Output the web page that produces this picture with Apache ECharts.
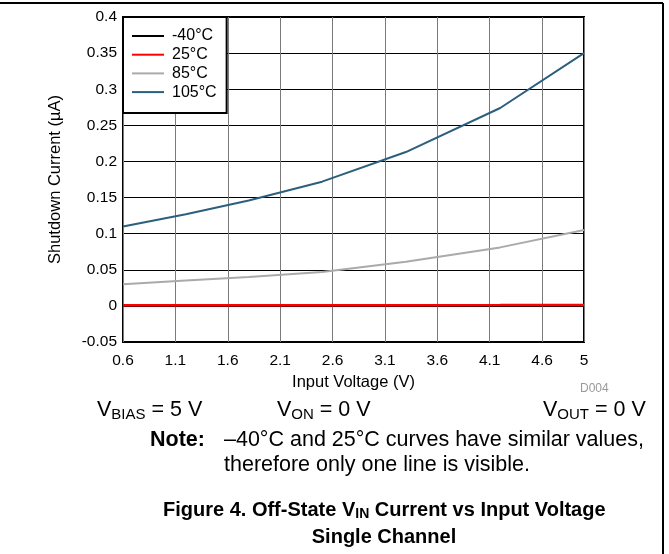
<!DOCTYPE html>
<html>
<head>
<meta charset="utf-8">
<script src="https://cdn.jsdelivr.net/npm/echarts@6/dist/echarts.min.js"></script>
<style>
  html, body { margin: 0; padding: 0; background: #fff; }
  #chart { width: 669px; height: 554px; }
</style>
</head>
<body>
<div id="chart"></div>
<script>
// input voltage (V) where the curves were sampled
var voltages = [0.6, 1.2, 1.8, 2.5, 3.3, 4.2, 5.0];
var names = ['-40°C', '25°C', '85°C', '105°C'];
var colors = ['#000000', '#ff0000', '#aaaaaa', '#2b5f7e'];
// shutdown current (uA)
var iM40 = [0.0005, 0.0005, 0.0005, 0.0005, 0.0005, 0.0005, 0.0006];
var i25 = [0.001, 0.001, 0.001, 0.001, 0.001, 0.0012, 0.0014];
var i85 = [0.030, 0.035, 0.040, 0.047, 0.061, 0.081, 0.105];
var i105 = [0.110, 0.127, 0.146, 0.172, 0.213, 0.274, 0.350];
var yTicks = { min: -0.05, max: 0.4, step: 0.05 };
var xStart = 0.6, xEnd = 5, xStep = 0.5;

var FONT = 'Liberation Sans, Arial, sans-serif';
var chart = echarts.init(document.getElementById('chart'));

function pts(vals) {
    // x is shifted so ticks can start at 0.6 with a 0.5 step
    return voltages.map(function (v, i) { return [v - xStart, vals[i]]; });
}

var allData = [iM40, i25, i85, i105];
var series = [];
for (var k = 0; k < names.length; k++) {
    series.push({
        name: names[k],
        type: 'line',
        data: pts(allData[k]),
        showSymbol: false,
        lineStyle: { color: colors[k], width: k == 1 ? 2.5 : 2 },
        itemStyle: { color: colors[k] },
        z: 2 + k
    });
}

var subRich = function (size, pad, bold) {
    return { s: { fontSize: size, padding: [pad, 0, 0, 0], fontFamily: FONT, fontWeight: bold ? 'bold' : 'normal' } };
};

var option = {
    animation: false,
    textStyle: { fontFamily: FONT },
    grid: {
        left: 123, top: 17, right: 85, bottom: 212,
        show: true, borderColor: '#000', borderWidth: 2, backgroundColor: 'transparent'
    },
    legend: {
        data: names,
        orient: 'vertical',
        left: 123, top: 17,
        padding: [11, 10, 13, 9],
        itemGap: 2.7,
        itemWidth: 32, itemHeight: 2,
        icon: 'rect',
        backgroundColor: '#fff',
        borderColor: '#000', borderWidth: 2,
        textStyle: { fontSize: 16, color: '#000', fontFamily: FONT, lineHeight: 16, padding: [0, 0, 0, 3] },
        z: 10
    },
    xAxis: {
        type: 'value',
        min: 0, max: xEnd - xStart, interval: xStep,
        name: 'Input Voltage (V)',
        nameLocation: 'middle', nameGap: 31,
        nameTextStyle: { fontSize: 16.5, color: '#000', fontFamily: FONT },
        axisLine: { show: false },
        axisTick: { show: false },
        axisLabel: {
            fontSize: 15.5, color: '#000', margin: 11, fontFamily: FONT,
            formatter: function (v) { return String(Math.round((v + xStart) * 10) / 10); }
        },
        splitLine: { show: true, lineStyle: { color: '#7a7a7a', width: 1 } }
    },
    yAxis: {
        type: 'value',
        min: yTicks.min, max: yTicks.max, interval: yTicks.step,
        name: 'Shutdown Current (µA)',
        nameLocation: 'middle', nameGap: 59,
        nameTextStyle: { fontSize: 16.5, color: '#000', fontFamily: FONT },
        axisLine: { show: false },
        axisTick: { show: false },
        axisLabel: {
            fontSize: 15.5, color: '#000', margin: 6, fontFamily: FONT,
            formatter: function (v) { return String(Math.round(v * 100) / 100); }
        },
        splitLine: { show: true, lineStyle: { color: '#000', width: 1 } }
    },
    series: series,
    graphic: [
        // figure frame: top and right edges
        { type: 'line', shape: { x1: 0, y1: 3, x2: 663, y2: 3 }, style: { stroke: '#000', lineWidth: 2 } },
        { type: 'line', shape: { x1: 663, y1: 3, x2: 663, y2: 554 }, style: { stroke: '#000', lineWidth: 2 } },
        { type: 'text', left: 580, top: 383, style: { text: 'D004', fontSize: 12, fill: '#999', fontFamily: FONT } },
        { type: 'text', left: 97, top: 399, style: { text: 'V{s|BIAS} = 5 V', fontSize: 21.5, fill: '#000', fontFamily: FONT, rich: subRich(15, 10) } },
        { type: 'text', left: 277, top: 399, style: { text: 'V{s|ON} = 0 V', fontSize: 21.5, fill: '#000', fontFamily: FONT, rich: subRich(15, 10) } },
        { type: 'text', left: 543, top: 399, style: { text: 'V{s|OUT} = 0 V', fontSize: 21.5, fill: '#000', fontFamily: FONT, rich: subRich(15, 10) } },
        { type: 'text', left: 150, top: 429, style: { text: 'Note:', fontSize: 21.5, fontWeight: 'bold', fill: '#000', fontFamily: FONT } },
        { type: 'text', left: 224, top: 429, style: { text: '–40°C and 25°C curves have similar values,', fontSize: 21.5, fill: '#000', fontFamily: FONT } },
        { type: 'text', left: 224, top: 454, style: { text: 'therefore only one line is visible.', fontSize: 21.5, fill: '#000', fontFamily: FONT } },
        { type: 'text', left: 163, top: 500, style: { text: 'Figure 4. Off-State V{s|IN} Current vs Input Voltage', fontSize: 20, fontWeight: 'bold', fill: '#000', fontFamily: FONT, rich: subRich(14, 9, true) } },
        { type: 'text', x: 384, y: 527, style: { text: 'Single Channel', fontSize: 20, fontWeight: 'bold', fill: '#000', fontFamily: FONT, align: 'center' } }
    ]
};

chart.setOption(option);
</script>
</body>
</html>
